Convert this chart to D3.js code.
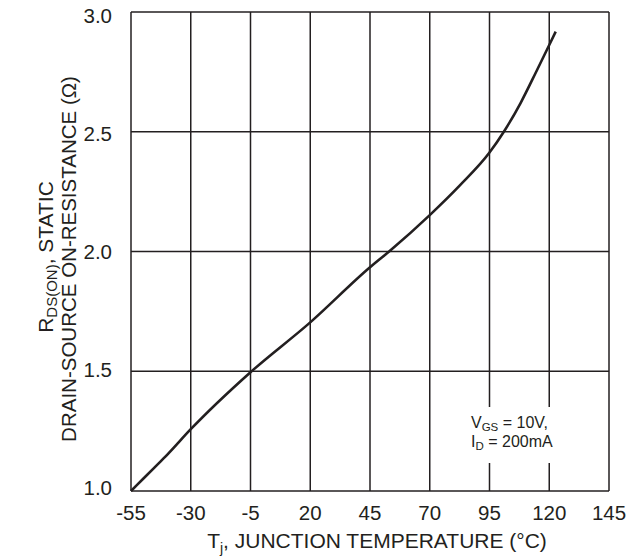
<!DOCTYPE html>
<html><head><meta charset="utf-8">
<script src="https://cdn.jsdelivr.net/npm/d3@7"></script>
<style>body{margin:0;background:#fff}svg{display:block}text{font-family:"Liberation Sans",Arial,sans-serif;fill:#231f20}</style>
</head><body>
<script>
const temps = [-55,-50,-45,-40,-30,-5,20,45,53,70,82.5,95,101,108,115,120,122.7];
const rdson = [1.0,1.05,1.1,1.15,1.258,1.496,1.704,1.934,2.0,2.152,2.275,2.413,2.5,2.62,2.76,2.862,2.918];
const xTicks = [-55,-30,-5,20,45,70,95,120,145];
const yTicks = [1.0,1.5,2.0,2.5,3.0];

const W=627,H=557;
const svg=d3.select("body").append("svg").attr("width",W).attr("height",H);
const x=d3.scaleLinear().domain([-55,145]).range([131,609]);
const y=d3.scaleLinear().domain([1.0,3.0]).range([491,12]);
const ink="#231f20";

const g=svg.append("g");
g.selectAll(".vg").data(xTicks).enter().append("line")
 .attr("x1",d=>x(d)).attr("x2",d=>x(d)).attr("y1",y(3)).attr("y2",y(1))
 .attr("stroke",ink).attr("stroke-width",1.5);
g.selectAll(".hg").data(yTicks).enter().append("line")
 .attr("x1",x(-55)).attr("x2",x(145)).attr("y1",d=>y(d)).attr("y2",d=>y(d))
 .attr("stroke",ink).attr("stroke-width",1.5);

// legend box
svg.append("rect").attr("x",462).attr("y",407).attr("width",100).attr("height",56).attr("fill","#fff");
const lt=svg.append("text").attr("x",471).attr("y",428).attr("font-size",16);
lt.append("tspan").text("V");
lt.append("tspan").attr("font-size",11.5).attr("dy",2.5).text("GS");
lt.append("tspan").attr("dy",-2.5).text(" = 10V,");
const lt2=svg.append("text").attr("x",471).attr("y",447).attr("font-size",16);
lt2.append("tspan").text("I");
lt2.append("tspan").attr("font-size",11.5).attr("dy",2.5).text("D");
lt2.append("tspan").attr("dy",-2.5).text(" = 200mA");

// curve
const line=d3.line().x((d,i)=>x(temps[i])).y(d=>y(d)).curve(d3.curveMonotoneX);
svg.append("path").attr("d",line(rdson)).attr("fill","none").attr("stroke",ink).attr("stroke-width",2.6);

// tick labels
svg.selectAll(".yl").data(yTicks).enter().append("text")
 .attr("x",112).attr("y",d=>y(d)+4+(d-1)*3.5).attr("text-anchor","end").attr("font-size",20.5)
 .text(d=>d.toFixed(1));
svg.selectAll(".xl").data(xTicks).enter().append("text")
 .attr("x",d=>x(d)).attr("y",520).attr("text-anchor","middle").attr("font-size",20.5)
 .text(d=>d);

// x title
const xt=svg.append("text").attr("x",377).attr("y",548).attr("text-anchor","middle").attr("font-size",21);
xt.append("tspan").text("T");
xt.append("tspan").attr("font-size",14).attr("dy",5).text("j");
xt.append("tspan").attr("dy",-5).text(", JUNCTION TEMPERATURE (°C)");

// y title
const yt1=svg.append("text").attr("transform","translate(53,257) rotate(-90)").attr("text-anchor","middle").attr("font-size",21);
yt1.append("tspan").text("R");
yt1.append("tspan").attr("font-size",15).attr("dy",4).text("DS(ON)");
yt1.append("tspan").attr("dy",-4).text(", STATIC");
svg.append("text").attr("transform","translate(76,259) rotate(-90)").attr("text-anchor","middle").attr("font-size",20.5)
 .text("DRAIN-SOURCE ON-RESISTANCE (Ω)");
</script>
</body></html>
